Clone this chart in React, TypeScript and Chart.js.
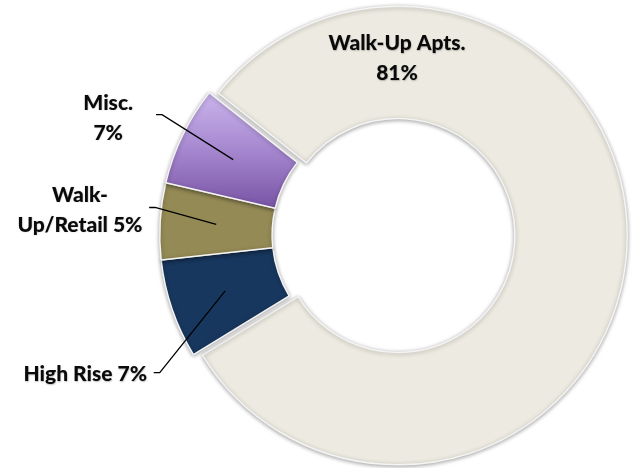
import React, { useEffect, useRef } from 'react';
import { Chart, registerables } from 'chart.js';

Chart.register(...registerables);

// ---- data ----
const categories = ['Walk-Up Apts.', 'High Rise', 'Walk-Up/Retail', 'Misc.'];
const shares = [80.6, 7.0, 5.4, 7.0];
const percentLabels = ['81%', '7%', '5%', '7%'];
const labelLines = [
  ['Walk-Up Apts.', '81%'],
  ['High Rise 7%'],
  ['Walk-', 'Up/Retail 5%'],
  ['Misc.', '7%'],
];
const sliceColors = ['#EDEBE1', '#18375E', '#948A55', '#9474C0'];

// label anchors relative to centre, in units of outer radius (layout only)
const labelPlacement = [
  { text: [0.035, -0.77], elbow: null },
  { text: [-1.325, 0.608], elbow: [-1.0, 0.6] },
  { text: [-1.348, -0.11], elbow: [-1.02, -0.12] },
  { text: [-1.225, -0.51], elbow: [-0.99, -0.525] },
];

const FONT = '900 21px Lato, "Open Sans", sans-serif';

export default function App() {
  const ref = useRef<HTMLCanvasElement | null>(null);

  useEffect(() => {
    if (!ref.current) return;

    const explodePlugin = {
      id: 'explodeMain',
      afterDatasetsUpdate(chart: any) {
        const arc = chart.getDatasetMeta(0).data[0];
        if (!arc) return;
        const mid = (arc.startAngle + arc.endAngle) / 2;
        const d = 9;
        arc.x += Math.cos(mid) * d;
        arc.y += Math.sin(mid) * d;
      },
    };

    const shadowPlugin = {
      id: 'softShadow',
      beforeDatasetsDraw(chart: any) {
        const ctx = chart.ctx;
        ctx.save();
        ctx.shadowColor = 'rgba(0,0,0,0.35)';
        ctx.shadowBlur = 4;
        ctx.shadowOffsetX = 0;
        ctx.shadowOffsetY = 1;
      },
      afterDatasetsDraw(chart: any) {
        chart.ctx.restore();
      },
    };

    const labelPlugin = {
      id: 'sliceLabels',
      afterDraw(chart: any) {
        const ctx = chart.ctx;
        const meta = chart.getDatasetMeta(0);
        const ref0 = meta.data[1];
        const cx = ref0.x;
        const cy = ref0.y;
        const R = ref0.outerRadius;
        ctx.save();
        ctx.font = FONT;
        ctx.fillStyle = '#0a0a0a';
        ctx.textAlign = 'center';
        ctx.textBaseline = 'middle';
        ctx.shadowColor = 'rgba(0,0,0,0.25)';
        ctx.shadowBlur = 1.5;
        ctx.shadowOffsetX = 0.5;
        ctx.shadowOffsetY = 0.5;
        meta.data.forEach((arc: any, i: number) => {
          const p = labelPlacement[i];
          const lines = labelLines[i];
          const tx = cx + p.text[0] * R;
          const ty = cy + p.text[1] * R;
          const lh = 30;
          const y0 = ty - ((lines.length - 1) * lh) / 2;
          lines.forEach((ln, k) => ctx.fillText(ln, tx, y0 + k * lh));
        });
        ctx.shadowColor = 'rgba(0,0,0,0)';
        meta.data.forEach((arc: any, i: number) => {
          const p = labelPlacement[i];
          if (!p.elbow) return;
          const mid = (arc.startAngle + arc.endAngle) / 2;
          const rr = (arc.innerRadius + arc.outerRadius) / 2;
          const ex = arc.x + Math.cos(mid) * rr;
          const ey = arc.y + Math.sin(mid) * rr;
          const bx = cx + p.elbow[0] * R;
          const by = cy + p.elbow[1] * R;
          ctx.beginPath();
          ctx.strokeStyle = '#000000';
          ctx.lineWidth = 1.3;
          ctx.moveTo(bx - 6, by);
          ctx.lineTo(bx, by);
          ctx.lineTo(ex, ey);
          ctx.stroke();
        });
        ctx.restore();
      },
    };

    const chart = new Chart(ref.current, {
      type: 'doughnut',
      data: {
        labels: categories,
        datasets: [
          {
            data: shares,
            backgroundColor: (c: any) => {
              const i = c.dataIndex;
              if (i === 3 && c.chart.chartArea) {
                const a = c.chart.chartArea;
                const cy = (a.top + a.bottom) / 2;
                const R = Math.min(a.width, a.height) / 2;
                const g = c.chart.ctx.createLinearGradient(0, cy - 0.62 * R, 0, cy - 0.12 * R);
                g.addColorStop(0, '#CBB5EC');
                g.addColorStop(0.5, '#A587CF');
                g.addColorStop(1, '#7A55A6');
                return g;
              }
              return sliceColors[i];
            },
            borderColor: '#F4F4F4',
            borderWidth: 1.5,
          },
        ],
      },
      options: {
        responsive: false,
        animation: false,
        rotation: -51.6,
        cutout: '51%',
        layout: { padding: { left: 159, right: 13, top: 4, bottom: 2 } },
        plugins: {
          legend: { display: false },
          tooltip: { enabled: false },
        },
      },
      plugins: [explodePlugin, shadowPlugin, labelPlugin],
    });
    return () => chart.destroy();
  }, []);

  return (
    <div style={{ position: 'fixed', left: 0, top: 0, width: 632, height: 468, background: '#ffffff' }}>
      <canvas ref={ref} width={632} height={468} style={{ width: 632, height: 468 }} />
    </div>
  );
}
